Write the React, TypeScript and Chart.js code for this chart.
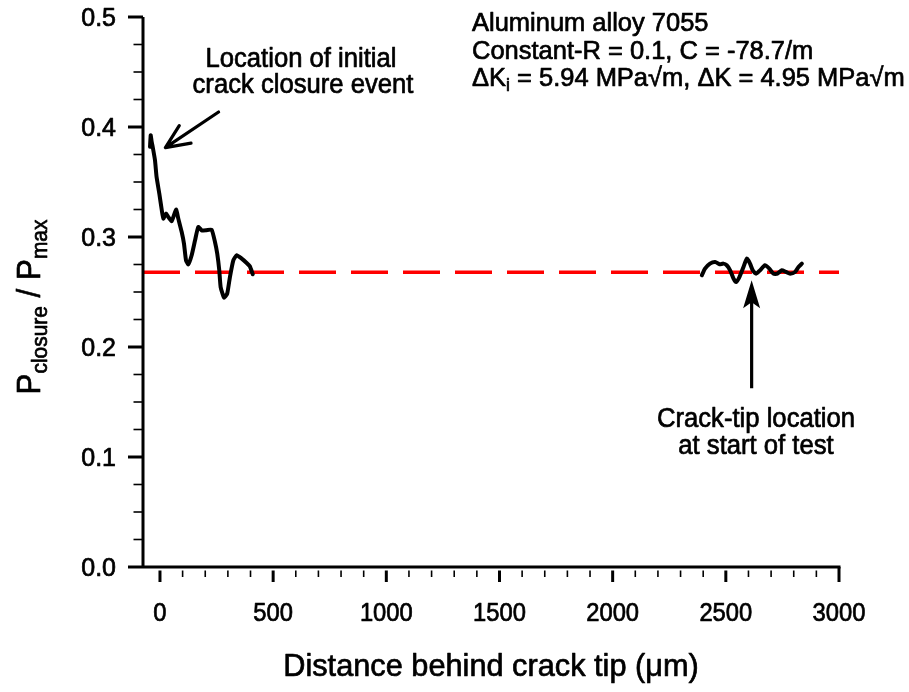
import React, { useEffect, useRef } from 'react';
import { Chart, registerables } from 'chart.js';
Chart.register(...registerables);

const FONT = "'Liberation Sans', Arial, Helvetica, sans-serif";

const xMin = -75;
const xMax = 3000;
const yMin = 0;
const yMax = 0.5;
const xMajorTicks = [0, 500, 1000, 1500, 2000, 2500, 3000];
const xTickLabels = ['0', '500', '1000', '1500', '2000', '2500', '3000'];
const xMinorStep = 100;
const yMajorTicks = [0, 0.1, 0.2, 0.3, 0.4, 0.5];
const yTickLabels = ['0.0', '0.1', '0.2', '0.3', '0.4', '0.5'];
const yMinorStep = 0.025;

// Measurements behind the crack tip near the initial closure event
const nearX = [-44, -41, -37, -32, -22, -15, -3, 8, 15, 27, 37, 52, 71, 81, 96, 106, 115, 125, 140, 155, 169, 184, 203, 228, 243, 253, 262, 268, 283, 297, 309, 324, 339, 361, 383, 397, 410];
const nearY = [0.382, 0.3925, 0.387, 0.3818, 0.3697, 0.3545, 0.3395, 0.3243, 0.3167, 0.3213, 0.3182, 0.3145, 0.3249, 0.3167, 0.3045, 0.294, 0.2788, 0.2752, 0.2834, 0.297, 0.3091, 0.3061, 0.3061, 0.3067, 0.2955, 0.2849, 0.2697, 0.2545, 0.2449, 0.2485, 0.2636, 0.2788, 0.2834, 0.2804, 0.2764, 0.2734, 0.2661];

// Measurements around the crack-tip location at start of test
const farX = [2394, 2408, 2430, 2453, 2472, 2489, 2504, 2519, 2534, 2545, 2560, 2578, 2593, 2607, 2619, 2634, 2651, 2673, 2692, 2710, 2728, 2747, 2766, 2784, 2806, 2821, 2836];
const farY = [0.2652, 0.2713, 0.2758, 0.2773, 0.2752, 0.2758, 0.2743, 0.2697, 0.2622, 0.2591, 0.2636, 0.2727, 0.2804, 0.2758, 0.2697, 0.2667, 0.2697, 0.2743, 0.2713, 0.2667, 0.2667, 0.2697, 0.2682, 0.2667, 0.2682, 0.2727, 0.2758];

const closureLevel = 0.268;

// Arrows (data coordinates)
const arrowInitial = { fromX: 259, fromY: 0.4136, toX: 24, toY: 0.3813 };
const arrowStart = { fromX: 2614, fromY: 0.1625, toX: 2614, toY: 0.2606 };

type Run = { t: string; size: number; dy?: number };

function runsWidth(ctx: CanvasRenderingContext2D, runs: Run[]) {
  let w = 0;
  for (const r of runs) {
    ctx.font = `${r.size}px ${FONT}`;
    w += ctx.measureText(r.t).width;
  }
  return w;
}

function drawRuns(ctx: CanvasRenderingContext2D, runs: Run[], x: number, y: number, align: 'left' | 'center' | 'right', sx = 1) {
  const w = runsWidth(ctx, runs) * sx;
  let cx = align === 'left' ? x : align === 'center' ? x - w / 2 : x - w;
  ctx.save();
  ctx.textAlign = 'left';
  ctx.textBaseline = 'alphabetic';
  ctx.fillStyle = '#000';
  ctx.strokeStyle = '#000';
  ctx.lineWidth = 0.7;
  ctx.lineJoin = 'round';
  for (const r of runs) {
    ctx.font = `${r.size}px ${FONT}`;
    const mw = ctx.measureText(r.t).width;
    ctx.save();
    ctx.translate(cx, y + (r.dy || 0));
    ctx.scale(sx, 1);
    ctx.fillText(r.t, 0, 0);
    ctx.strokeText(r.t, 0, 0);
    ctx.restore();
    cx += mw * sx;
  }
  ctx.restore();
}

const decorPlugin = {
  id: 'decor',
  afterDraw(chart: any) {
    const ctx: CanvasRenderingContext2D = chart.ctx;
    const xs = chart.scales.x;
    const ys = chart.scales.y;
    const px = (v: number) => xs.getPixelForValue(v);
    const py = (v: number) => ys.getPixelForValue(v);
    const left = px(xMin);
    const right = px(xMax);
    const top = py(yMax);
    const bottom = py(yMin);

    ctx.save();
    ctx.strokeStyle = '#000';
    ctx.lineCap = 'butt';
    // axis lines
    ctx.lineWidth = 3;
    ctx.beginPath();
    ctx.moveTo(left, top);
    ctx.lineTo(left, bottom);
    ctx.moveTo(left, bottom);
    ctx.lineTo(right + 1.5, bottom);
    ctx.stroke();

    // y ticks
    const nY = Math.round((yMax - yMin) / yMinorStep);
    for (let i = 0; i <= nY; i++) {
      const v = yMin + i * yMinorStep;
      const major = yMajorTicks.some((m) => Math.abs(m - v) < 1e-9);
      const y = py(v);
      ctx.lineWidth = major ? 3 : 1.6;
      ctx.beginPath();
      ctx.moveTo(left, y);
      ctx.lineTo(left - (major ? 15 : 9.5), y);
      ctx.stroke();
    }
    // x ticks
    const nX = Math.round((xMax - 0) / xMinorStep);
    for (let i = 0; i <= nX; i++) {
      const v = i * xMinorStep;
      const major = xMajorTicks.includes(v);
      const x = px(v);
      ctx.lineWidth = major ? 3 : 1.6;
      ctx.beginPath();
      ctx.moveTo(x, v === xMax ? bottom : bottom + 3.5);
      ctx.lineTo(x, bottom + (major ? 15 : 10));
      ctx.stroke();
    }
    ctx.restore();

    // tick labels
    yMajorTicks.forEach((v, i) => {
      drawRuns(ctx, [{ t: yTickLabels[i], size: 25 }], 116, py(v) + 9, 'right');
    });
    xMajorTicks.forEach((v, i) => {
      drawRuns(ctx, [{ t: xTickLabels[i], size: 25 }], px(v), 621, 'center', 0.95);
    });

    // axis titles
    drawRuns(ctx, [{ t: 'Distance behind crack tip (\u03bcm)', size: 32 }], 491, 676, 'center', 0.96);
    ctx.save();
    ctx.translate(40, 307);
    ctx.rotate(-Math.PI / 2);
    drawRuns(ctx, [
      { t: 'P', size: 33 },
      { t: 'closure', size: 22, dy: 7 },
      { t: ' / P', size: 33 },
      { t: 'max', size: 22, dy: 7 },
    ], 0, 0, 'center', 0.95);
    ctx.restore();

    // annotations text
    drawRuns(ctx, [{ t: 'Location of initial', size: 27 }], 301, 66.5, 'center', 0.95);
    drawRuns(ctx, [{ t: 'crack closure event', size: 27 }], 303, 93, 'center', 0.95);
    drawRuns(ctx, [{ t: 'Crack-tip location', size: 27 }], 756, 426.5, 'center', 0.95);
    drawRuns(ctx, [{ t: 'at start of test', size: 27 }], 756, 453.5, 'center', 0.95);

    drawRuns(ctx, [{ t: 'Aluminum alloy 7055', size: 26 }], 472, 31, 'left', 0.98);
    drawRuns(ctx, [{ t: 'Constant-R = 0.1, C = -78.7/m', size: 26 }], 472, 58.5, 'left', 0.98);
    drawRuns(ctx, [
      { t: '\u0394K', size: 26 },
      { t: 'i', size: 18, dy: 5 },
      { t: ' = 5.94 MPa\u221am, \u0394K = 4.95 MPa\u221am', size: 26 },
    ], 472, 86, 'left', 0.98);

    // arrows
    ctx.save();
    ctx.strokeStyle = '#000';
    ctx.fillStyle = '#000';
    ctx.lineWidth = 3.2;
    ctx.lineCap = 'round';
    ctx.lineJoin = 'round';
    // initial closure arrow (open head)
    {
      const x0 = px(arrowInitial.fromX), y0 = py(arrowInitial.fromY);
      const x1 = px(arrowInitial.toX), y1 = py(arrowInitial.toY);
      const ang = Math.atan2(y1 - y0, x1 - x0);
      const hl = 26, hw = 0.42;
      ctx.beginPath();
      ctx.moveTo(x0, y0);
      ctx.lineTo(x1, y1);
      ctx.moveTo(x1 - hl * Math.cos(ang - hw), y1 - hl * Math.sin(ang - hw));
      ctx.lineTo(x1, y1);
      ctx.lineTo(x1 - hl * Math.cos(ang + hw), y1 - hl * Math.sin(ang + hw));
      ctx.stroke();
    }
    // start-of-test arrow (filled head)
    {
      const x0 = px(arrowStart.fromX), y0 = py(arrowStart.fromY);
      const x1 = px(arrowStart.toX), y1 = py(arrowStart.toY);
      ctx.lineCap = 'butt';
      ctx.beginPath();
      ctx.moveTo(x0, y0);
      ctx.lineTo(x1, y1 + 10);
      ctx.stroke();
      ctx.beginPath();
      ctx.moveTo(x1, y1);
      ctx.lineTo(x1 - 8.5, y1 + 28);
      ctx.lineTo(x1, y1 + 22);
      ctx.lineTo(x1 + 8.5, y1 + 28);
      ctx.closePath();
      ctx.fill();
    }
    ctx.restore();
  },
};

export default function App() {
  const ref = useRef<HTMLCanvasElement | null>(null);
  useEffect(() => {
    document.body.style.margin = '0';
    const canvas = ref.current!;
    const near = nearX.map((x, i) => ({ x, y: nearY[i] }));
    const far = farX.map((x, i) => ({ x, y: farY[i] }));
    const level = [{ x: xMin, y: closureLevel }, { x: xMax, y: closureLevel }];
    const chart = new Chart(canvas, {
      type: 'line',
      data: {
        datasets: [
          { data: near, borderColor: '#000', borderWidth: 4, pointRadius: 0, tension: 0.15, borderJoinStyle: 'round', borderCapStyle: 'round' } as any,
          { data: far, borderColor: '#000', borderWidth: 4, pointRadius: 0, tension: 0.2, borderJoinStyle: 'round', borderCapStyle: 'round' } as any,
          { data: level, borderColor: '#ff0000', borderWidth: 3.5, pointRadius: 0, borderDash: [37, 15], borderCapStyle: 'butt' } as any,
        ],
      },
      options: {
        animation: false,
        responsive: false,
        devicePixelRatio: 1,
        layout: { padding: { left: 143, right: 70, top: 17, bottom: 125 } },
        plugins: { legend: { display: false }, tooltip: { enabled: false } },
        events: [],
        scales: {
          x: { type: 'linear', min: xMin, max: xMax, display: false },
          y: { type: 'linear', min: yMin, max: yMax, display: false },
        },
      },
      plugins: [decorPlugin],
    });
    return () => chart.destroy();
  }, []);
  return (
    <div style={{ width: 909, height: 692, background: '#fff' }}>
      <canvas ref={ref} width={909} height={692} style={{ display: 'block' }} />
    </div>
  );
}
